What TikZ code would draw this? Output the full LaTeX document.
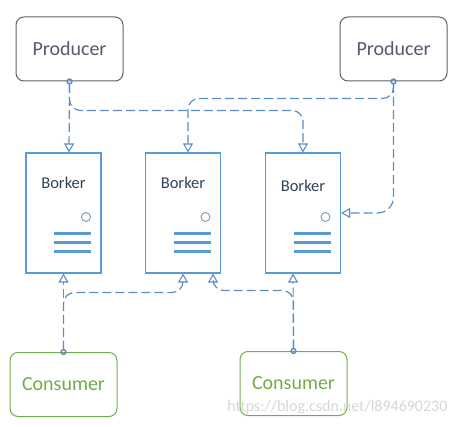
\documentclass[tikz,border=0pt]{standalone}
\usepackage{fontspec}
\setmainfont{Carlito}
\usetikzlibrary{arrows.meta,positioning}
\definecolor{prod}{HTML}{5A5670}
\definecolor{prodline}{HTML}{5F5F6E}
\definecolor{cons}{HTML}{70AD47}
\definecolor{brk}{HTML}{5B9BD5}
\definecolor{brktext}{HTML}{2E4257}
\definecolor{led}{HTML}{7F97AD}
\definecolor{conn}{HTML}{5B8EC4}
\tikzset{
    prodbox/.style={draw=prodline,line width=1pt,rounded corners=8pt,
        minimum width=107pt,minimum height=64pt,inner sep=0pt,
        text=prod,font=\fontsize{20}{24}\selectfont},
    consbox/.style={prodbox,draw=cons,text=cons},
    brokerbox/.style={draw=brk,line width=1.1pt,minimum width=75pt,
        minimum height=120pt,inner sep=0pt},
    brokertext/.style={text=brktext,font=\fontsize{16.5}{20}\selectfont},
    ledring/.style={draw=led,line width=0.9pt},
    slot/.style={draw=brk,line width=3pt},
    link/.style={draw=conn,line width=1.2pt,dash pattern=on 9pt off 4pt,
        rounded corners=11pt,
        {Circle[open,length=6pt,width=6pt,line width=1.2pt,sep=-3pt]}-{Triangle[open,length=9pt,width=10pt,line width=1.1pt]}},
}
\newcommand{\broker}[4]{
    % name, x, y, label offset
    \node[brokerbox] (#1) at (#2,#3) {};
    \node[brokertext] at ([yshift=#4pt]#1.center) {Borker};
    \draw[ledring] ([shift={(22.5pt,-4pt)}]#1.center) circle (4.5pt);
    \foreach \dy in {20.7,29.7,38.7}
        \draw[slot] ([shift={(-9.5pt,-\dy pt)}]#1.center) -- ++(37pt,0);
}

\begin{document}
\begin{tikzpicture}[x=1pt,y=1pt]
    \useasboundingbox (0,0) rectangle (460,426);

    \node[prodbox] (p1) at (69.5,377) {Producer};
    \node[prodbox] (p2) at (393.5,377) {Producer};

    \broker{b1}{63.5}{213}{30};
    \broker{b2}{183}{213}{30};
    \broker{b3}{303}{213}{27};

    \node[consbox] (c1) at (63.5,41.5) {Consumer};
    \node[consbox] (c2) at (293.5,42.5) {Consumer};

    \coordinate (b1in) at ([xshift=5.5pt]b1.north);
    \coordinate (b2in) at ([xshift=5pt]b2.north);
    \coordinate (b2out) at ([xshift=30pt]b2.south);
    \coordinate (b3out) at ([xshift=-10pt]b3.south);

    % producers
    \draw[link] (p1.south) -- (b1in);
    \draw[link] (p1.south) |- ([yshift=42pt]b3.north) -- (b3.north);
    \draw[link] (p2.south) |- ([yshift=54pt]b2in) -- (b2in);
    \draw[link,rounded corners=16pt] (p2.south) |- (b3.east);

    % consumers
    \draw[link] (c1.north) -- (b1.south);
    \draw[link] (c1.north) |- ([yshift=-19pt]b2.south) -- (b2.south);
    \draw[link] (c2.north) -- (b3out);
    \draw[link] (c2.north) |- ([yshift=-17pt]b2out) -- (b2out);

    \node[text=black!16,font=\fontsize{16}{19}\selectfont,anchor=east]
        (mark) at (451,19) {https://blog.csdn.net/l894690230};
\end{tikzpicture}
\end{document}
